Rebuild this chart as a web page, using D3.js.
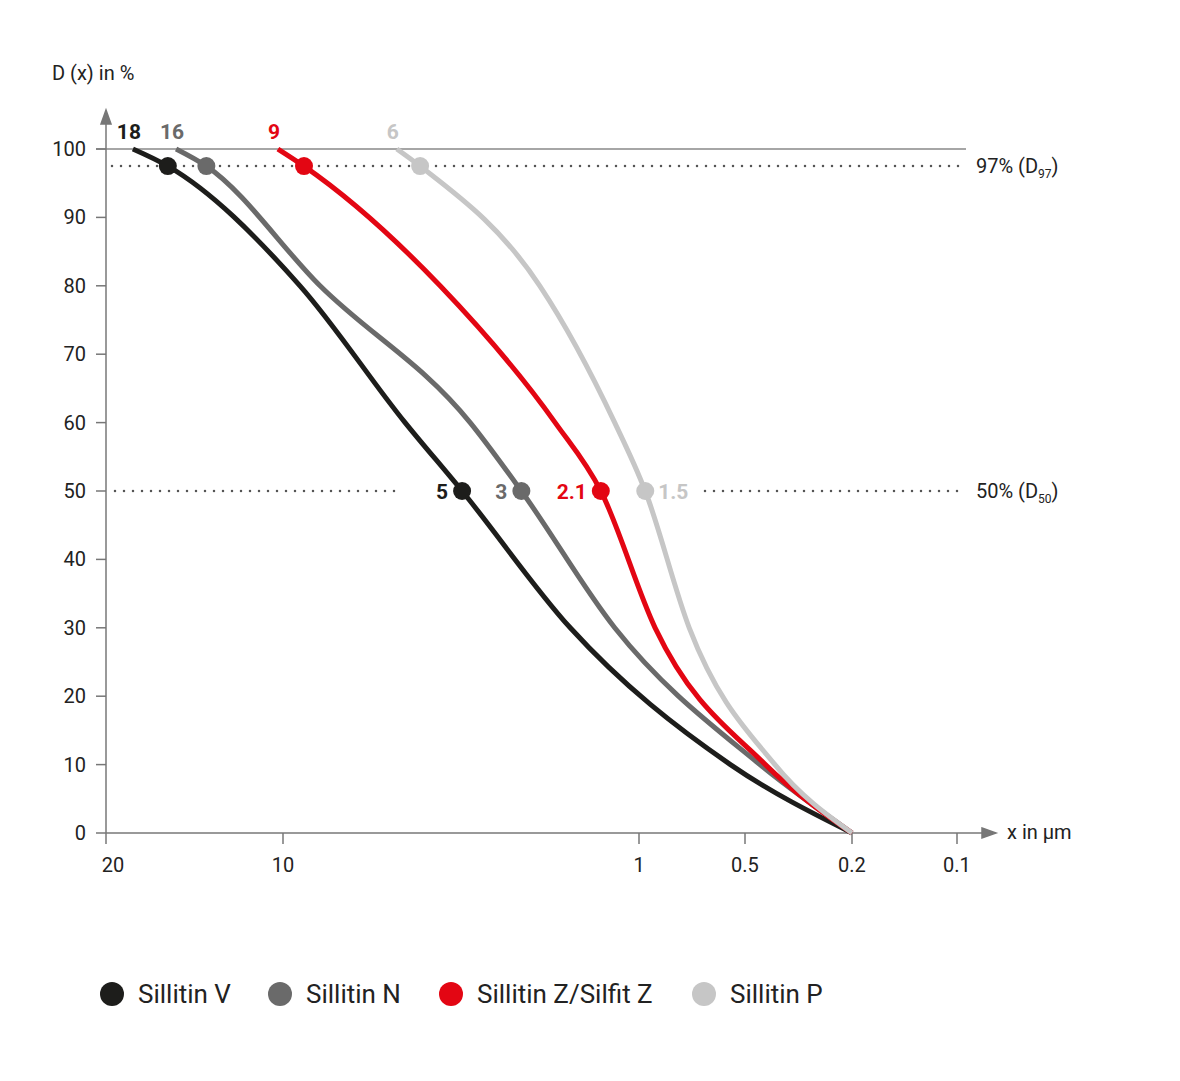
<!DOCTYPE html>
<html><head><meta charset="utf-8">
<script src="https://cdn.jsdelivr.net/npm/d3@7"></script>
<style>body{margin:0;background:#fff}text{font-family:"Liberation Sans Narrow","Roboto",sans-serif}</style>
</head><body><svg id="c" width="1180" height="1081"></svg>
<script>
// axis ticks (the original axis is not a true log scale, so piecewise log)
var xTicks = [20, 10, 1, 0.5, 0.2, 0.1];
var yTicks = [0,10,20,30,40,50,60,70,80,90,100];

var names = ['Sillitin V', 'Sillitin N', 'Sillitin Z/Silfit Z', 'Sillitin P'];
var colors = ['#1d1d1b', '#6a6a6a', '#e30613', '#c6c6c6'];
var topLabels = ['18', '16', '9', '6'];
var d50Labels = ['5', '3', '2.1', '1.5'];
var pct = [100, 97.5, 80, 60, 50, 30, 10, 0];
var sizeV = [18, 15.7, 8.96, 4.54, 3.14, 1.56, 0.55, 0.2];
var sizeN = [15.2, 13.5, 7.87, 2.98, 2.14, 1.17, 0.44, 0.2];
var sizeZ = [10.2, 8.73, 3.62, 1.72, 1.28, 0.9, 0.42, 0.2];
var sizeP = [4.79, 4.12, 1.9, 1.17, 0.96, 0.72, 0.387, 0.2];
var series = [sizeV, sizeN, sizeZ, sizeP];

var svg = d3.select('#c');
var x = d3.scaleLog().domain(xTicks).range([106, 283, 639, 745, 852, 957]);
var y = d3.scaleLinear().domain([0, 100]).range([833, 149]);

// gridlines
svg.append('line').attr('x1', 96).attr('x2', 966).attr('y1', y(100)).attr('y2', y(100))
  .attr('stroke', '#888').attr('stroke-width', 1.5);
function dotted(x1, x2, v) {
  svg.append('line').attr('x1', x1).attr('x2', x2).attr('y1', y(v)).attr('y2', y(v))
    .attr('stroke', '#555').attr('stroke-width', 2.5).attr('stroke-dasharray', '0 9').attr('stroke-linecap', 'round');
}
dotted(112, 966, 97.5);
dotted(115, 400, 50);
dotted(705, 966, 50);
svg.append('text').attr('x', 976).attr('y', y(97.5) + 7).attr('font-size', 20).attr('fill', '#222')
  .html('97% (D<tspan font-size="12" dy="5">97</tspan><tspan dy="-5">)</tspan>');
svg.append('text').attr('x', 976).attr('y', y(50) + 7).attr('font-size', 20).attr('fill', '#222')
  .html('50% (D<tspan font-size="12" dy="5">50</tspan><tspan dy="-5">)</tspan>');

// axes
var ax = svg.append('g').attr('stroke', '#777').attr('stroke-width', 1.5);
ax.append('line').attr('x1', 106).attr('x2', 106).attr('y1', 833).attr('y2', 118);
ax.append('path').attr('d', 'M101,124 L106,110 L111,124 Z').attr('fill', '#777');
ax.append('line').attr('x1', 106).attr('x2', 985).attr('y1', 833).attr('y2', 833);
ax.append('path').attr('d', 'M982,828 L996,833 L982,838 Z').attr('fill', '#777');
yTicks.forEach(function(t){
  ax.append('line').attr('x1', 96).attr('x2', 106).attr('y1', y(t)).attr('y2', y(t));
  svg.append('text').attr('x', 86).attr('y', y(t) + 7).attr('text-anchor', 'end').attr('font-size', 20).attr('fill', '#222').text(t);
});
xTicks.forEach(function(t){
  ax.append('line').attr('x1', x(t)).attr('x2', x(t)).attr('y1', 833).attr('y2', 844);
  svg.append('text').attr('x', t == 20 ? 113 : x(t)).attr('y', 872).attr('text-anchor', 'middle').attr('font-size', 20).attr('fill', '#222').text(t);
});
svg.append('text').attr('x', 52).attr('y', 80).attr('font-size', 20).attr('fill', '#222').text('D (x) in %');
svg.append('text').attr('x', 1007).attr('y', 839).attr('font-size', 20).attr('fill', '#222').text('x in µm');

// curves
var line = d3.line().x(function(d){ return x(d[0]); }).y(function(d){ return y(d[1]); }).curve(d3.curveMonotoneX);
series.forEach(function(s, i){
  var pts = s.map(function(v, j){ return [v, pct[j]]; });
  svg.append('path').attr('d', line(pts)).attr('fill', 'none').attr('stroke', colors[i]).attr('stroke-width', 5);
  svg.append('circle').attr('cx', x(s[1])).attr('cy', y(97.5)).attr('r', 9).attr('fill', colors[i]);
  svg.append('circle').attr('cx', x(s[4])).attr('cy', y(50)).attr('r', 9).attr('fill', colors[i]);
  svg.append('text').attr('x', x(s[0]) - 4).attr('y', 139).attr('text-anchor', 'middle')
    .attr('font-size', 21).attr('font-weight', 'bold').attr('fill', colors[i]).text(topLabels[i]);
  var right = i == 3;
  svg.append('text').attr('x', x(s[4]) + (right ? 13 : -14)).attr('y', y(50) + 8)
    .attr('text-anchor', right ? 'start' : 'end').attr('font-size', 21).attr('font-weight', 'bold')
    .attr('fill', colors[i]).text(d50Labels[i]);
});

// legend
var legX = [112, 280, 451, 704];
names.forEach(function(n, i){
  svg.append('circle').attr('cx', legX[i]).attr('cy', 994).attr('r', 12).attr('fill', colors[i]);
  svg.append('text').attr('x', legX[i] + 26).attr('y', 1003).attr('font-size', 26).attr('fill', '#222').text(n);
});
</script></body></html>
